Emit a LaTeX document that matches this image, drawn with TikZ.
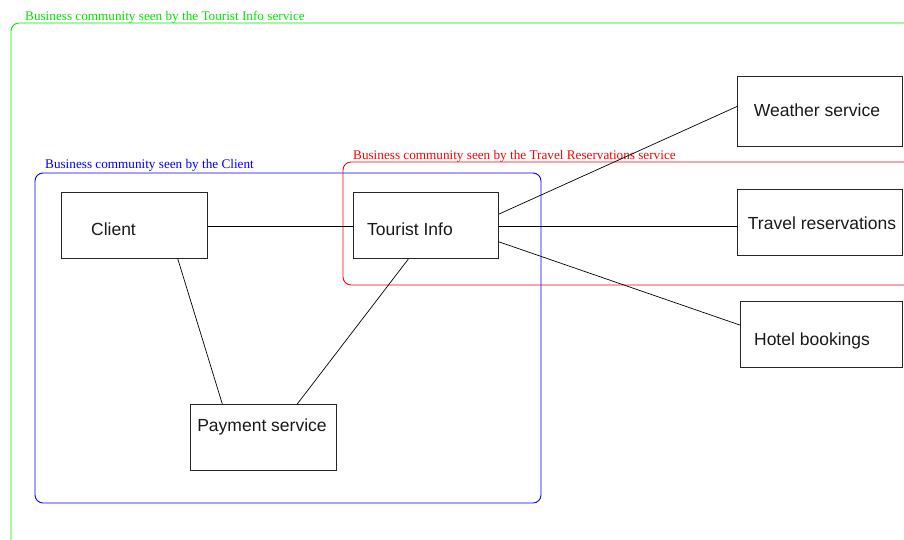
\documentclass[tikz,border=0pt]{standalone}
\usepackage{fontspec}
\setmainfont{Liberation Serif}
\newfontfamily\boxfont{Liberation Sans}
\usetikzlibrary{calc}
\definecolor{grpgreen}{RGB}{0,230,0}
\definecolor{grpblue}{RGB}{0,0,255}
\definecolor{grpred}{RGB}{255,0,0}
\tikzset{
  svcbox/.style={draw=black!85, line width=0.9pt, minimum width=#1, minimum height=66pt, inner sep=0pt},
  svcbox/.default=146pt,
  svctext/.style={font=\boxfont\fontsize{17.5}{20}\selectfont, inner sep=0pt, anchor=base, text=black!90},
  grouping/.style={line width=0.9pt, rounded corners=8pt},
  grouptext/.style={font=\fontsize{13.2}{15}\selectfont, inner sep=0pt, anchor=base west},
  link/.style={line width=0.7pt, black}
}
\begin{document}
\begin{tikzpicture}[x=1pt, y=-1pt]
\useasboundingbox (0,0) rectangle (904,539);
\clip (0,0) rectangle (904,539);

% community frames
\draw[grouping, grpgreen] (11,560) -- (11,23) -- (930,23);
\node[grouptext, text=grpgreen] (lgreen) at (25,20) {Business community seen by the Tourist Info service};

\draw[grouping, grpblue] (35,173) rectangle (541,503);
\node[grouptext, text=grpblue] (lblue) at (45,168) {Business community seen by the Client};

\draw[grouping, grpred] (930,162) -- (343,162) -- (343,285) -- (930,285);
\node[grouptext, text=grpred] (lred) at (353,159) {Business community seen by the Travel Reservations service};

% service boxes
\node[svcbox, anchor=north west] (client) at (61,192) {};
\node[svctext] (tclient) at (113.5,235.5) {Client};

\node[svcbox=145pt, anchor=north west] (tinfo) at (353,192) {};
\node[svctext] (ttinfo) at (410,235.5) {Tourist Info};

\node[svcbox, anchor=north west] (pay) at (190,404) {};
\node[svctext] (tpay) at (262,431) {Payment service};

\node[svcbox=165pt, minimum height=70pt, anchor=north west] (weather) at (737,76) {};
\node[svctext] (tweather) at (817,116) {Weather service};

\node[svcbox=165pt, anchor=north west] (travel) at (737,189) {};
\node[svctext] (ttravel) at (822,229.3) {Travel reservations};

\node[svcbox=162pt, anchor=north west] (hotel) at (740,301) {};
\node[svctext] (thotel) at (812,345.5) {Hotel bookings};

% connections
\draw[link] ($(client.north east)!0.515!(client.south east)$) -- ($(tinfo.north west)!0.515!(tinfo.south west)$);
\draw[link] ($(client.south west)!0.795!(client.south east)$) -- ($(pay.north west)!0.22!(pay.north east)$);
\draw[link] ($(tinfo.south west)!0.38!(tinfo.south east)$) -- ($(pay.north west)!0.73!(pay.north east)$);
\draw[link] ($(tinfo.north east)!0.33!(tinfo.south east)$) -- ($(weather.north west)!0.43!(weather.south west)$);
\draw[link] ($(tinfo.north east)!0.515!(tinfo.south east)$) -- ($(travel.north west)!0.56!(travel.south west)$);
\draw[link] ($(tinfo.north east)!0.745!(tinfo.south east)$) -- ($(hotel.north west)!0.36!(hotel.south west)$);
\end{tikzpicture}
\end{document}
